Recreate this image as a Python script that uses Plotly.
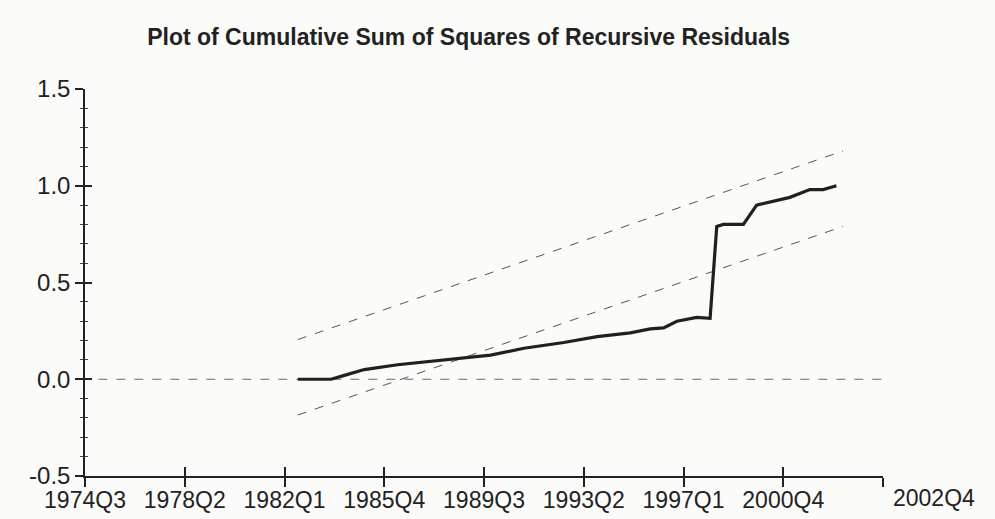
import plotly.graph_objects as go

# ---- data ----
tick_labels = ["1974Q3", "1978Q2", "1982Q1", "1985Q4", "1989Q3", "1993Q2", "1997Q1", "2000Q4"]
end_label = "2002Q4"

cusum_quarters = ["1982Q3", "1983Q4", "1984Q2", "1985Q1", "1986Q2", "1987Q2", "1988Q3",
                  "1989Q4", "1991Q1", "1992Q3", "1993Q4", "1995Q1", "1995Q4", "1996Q2",
                  "1996Q4", "1997Q3", "1998Q1", "1998Q2", "1998Q3", "1999Q2", "1999Q4",
                  "2000Q2", "2001Q1", "2001Q4", "2002Q2", "2002Q4"]
cusum_values = [0.0, 0.0, 0.02, 0.05, 0.075, 0.09, 0.11,
                0.125, 0.16, 0.19, 0.22, 0.24, 0.26, 0.265,
                0.30, 0.32, 0.315, 0.79, 0.80, 0.80, 0.90,
                0.915, 0.94, 0.98, 0.98, 1.0]

bound_quarters = ["1982Q3", "2003Q1"]
upper_bound = [0.205, 1.18]
lower_bound = [-0.185, 0.79]

zero_quarters = ["1975Q1", "2004Q3"]
zero_values = [0.0, 0.0]

axis_start = "1974Q3"
axis_end = "2004Q3"


def qindex(q):
    y0, q0 = int(axis_start[:4]), int(axis_start[-1])
    y, qq = int(q[:4]), int(q[-1])
    return (y - y0) * 4 + (qq - q0)


tick_vals = [qindex(t) for t in tick_labels] + [qindex(axis_end)]
tick_text = tick_labels + [""]

fig = go.Figure()

fig.add_trace(go.Scatter(
    x=[qindex(q) for q in zero_quarters], y=zero_values, mode="lines",
    line=dict(color="#6a6a6a", width=1, dash="dash"), hoverinfo="skip", showlegend=False))
fig.add_trace(go.Scatter(
    x=[qindex(q) for q in bound_quarters], y=upper_bound, mode="lines",
    line=dict(color="#555555", width=1, dash="dash"), showlegend=False))
fig.add_trace(go.Scatter(
    x=[qindex(q) for q in bound_quarters], y=lower_bound, mode="lines",
    line=dict(color="#555555", width=1, dash="dash"), showlegend=False))
fig.add_trace(go.Scatter(
    x=[qindex(q) for q in cusum_quarters], y=cusum_values, mode="lines",
    line=dict(color="#231f1b", width=3.2), showlegend=False))
# invisible trace for the overlay axes (ticks on the inside)
fig.add_trace(go.Scatter(x=[None], y=[None], xaxis="x2", yaxis="y2",
                         mode="lines", showlegend=False, hoverinfo="skip"))

font_family = "Liberation Sans, Arial, sans-serif"
xr = [qindex(axis_start), qindex(axis_end)]
yr = [-0.5, 1.5]

fig.update_layout(
    width=995, height=519,
    margin=dict(l=85, r=112, t=89, b=43),
    paper_bgcolor="#fbfbfa", plot_bgcolor="rgba(0,0,0,0)",
    title=dict(text="<b>Plot of Cumulative Sum of Squares of Recursive Residuals</b>",
               x=0.471, xanchor="center", y=0.928, yanchor="middle", automargin=False,
               font=dict(family=font_family, size=23, color="#222222")),
    xaxis=dict(range=xr, tickvals=tick_vals, ticktext=tick_text, automargin=False,
               showgrid=False, zeroline=False, showline=True, linecolor="#222222",
               linewidth=1.5, ticks="outside", ticklen=9, tickwidth=1.5, tickcolor="#222222",
               ticklabelstandoff=-6,
               tickfont=dict(family=font_family, size=23, color="#222222")),
    yaxis=dict(range=yr, tickvals=[-0.5, 0.0, 0.5, 1.0, 1.5], automargin=False,
               ticktext=["-0.5", "0.0", "0.5", "1.0", "1.5"],
               showgrid=False, zeroline=False, showline=True, linecolor="#222222",
               linewidth=1.5, ticks="outside", ticklen=8, tickwidth=1.5, tickcolor="#222222",
               minor=dict(dtick=0.1, ticks="outside", ticklen=3, tickcolor="#444444", tickwidth=1),
               tickfont=dict(family=font_family, size=24, color="#222222")),
    xaxis2=dict(range=xr, overlaying="x", tickvals=tick_vals, showticklabels=False,
                automargin=False,
                showgrid=False, zeroline=False, showline=False, ticks="inside",
                ticklen=9, tickwidth=1.5, tickcolor="#222222", anchor="y2"),
    yaxis2=dict(range=yr, overlaying="y", tickvals=[-0.5, 0.0, 0.5, 1.0, 1.5],
                automargin=False,
                showticklabels=False, showgrid=False, zeroline=False, showline=False,
                ticks="inside", ticklen=7, tickwidth=1.5, tickcolor="#222222", anchor="x2",
                minor=dict(dtick=0.1, ticks="inside", ticklen=3, tickcolor="#444444", tickwidth=1)),
    annotations=[dict(text=end_label, x=(qindex(axis_end) + 7.7) / (xr[1] - xr[0]),
                      xref="paper", y=0, yref="paper",
                      yshift=-22, xanchor="center", yanchor="middle", showarrow=False,
                      font=dict(family=font_family, size=23, color="#222222"))],
)

fig.write_html("out.html", config={"displayModeBar": False},
               post_script="document.body.style.margin='0';document.body.style.overflow='hidden';")
